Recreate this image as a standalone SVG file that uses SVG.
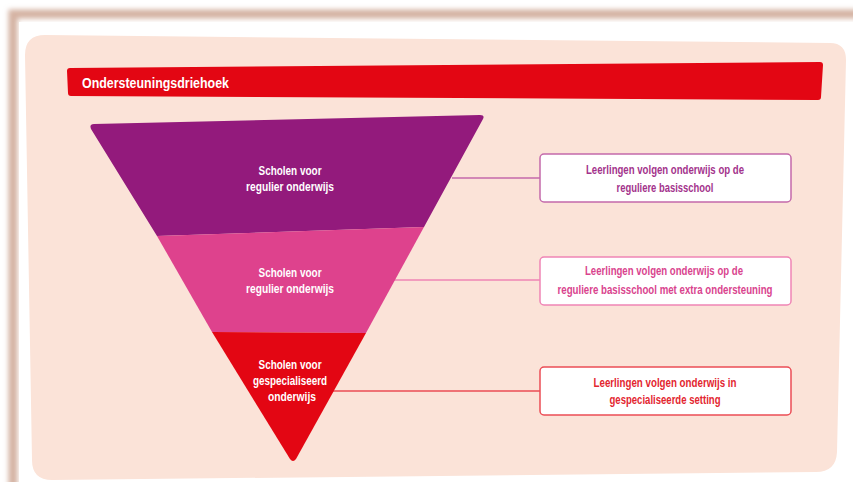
<svg xmlns="http://www.w3.org/2000/svg" width="853" height="482" viewBox="0 0 853 482">
<defs>
<filter id="blur" x="-5%" y="-5%" width="110%" height="110%"><feGaussianBlur stdDeviation="2.5"/></filter>
<style>
.t{font-family:"Liberation Sans",Arial,sans-serif;font-weight:bold;font-size:13.5px;text-anchor:middle}
.w{fill:#ffffff}
.b{font-size:13px}
.box{fill:#ffffff;stroke-width:1.5}
.ln{stroke-width:1.5;fill:none}
</style>
</defs>
<rect x="0" y="0" width="853" height="482" fill="#ffffff"/>
<rect x="13" y="14" width="860" height="480" fill="none" stroke="#d4b2a2" stroke-width="9" filter="url(#blur)"/>
<rect x="19" y="22" width="840" height="470" fill="#ffffff"/>
<path d="M 45 35 L 830 43 Q 846 43 846 60 L 837 452 Q 836 472 816 472 L 52 480 Q 32 480 32 460 L 25 55 Q 25 35 45 35 Z" fill="#fbe3d8"/>
<g id="title">
<path d="M 70 68 L 820 62 Q 823 62 823 65 L 821 97 Q 821 100 818 100 L 71 96 Q 68 96 68 93 L 67 71 Q 67 68 70 68 Z" fill="#e30613"/>
<text x="82" y="87.5" class="t w" style="text-anchor:start;font-size:14.5px" textLength="147" lengthAdjust="spacingAndGlyphs">Ondersteuningsdriehoek</text>
</g>
<g id="connectors">
<line x1="452" y1="178" x2="540" y2="178" class="ln" stroke="#c46aab"/>
<line x1="394" y1="280" x2="540" y2="280" class="ln" stroke="#ef85b5"/>
<line x1="333" y1="391" x2="540" y2="391" class="ln" stroke="#eb4d55"/>
</g>
<g id="tier1">
<path d="M 94 124 L 480 115 Q 485 115 483 119 L 424 227 L 157 236 L 91 129 Q 89 124 94 124 Z" fill="#931a7c"/>
<text x="290" y="175" class="t w" textLength="63" lengthAdjust="spacingAndGlyphs">Scholen voor</text>
<text x="290" y="191" class="t w" textLength="88" lengthAdjust="spacingAndGlyphs">regulier onderwijs</text>
</g>
<g id="tier2">
<path d="M 157 236 L 424 227 L 366 333 L 212 332 Z" fill="#de428d"/>
<text x="290" y="277" class="t w" textLength="63" lengthAdjust="spacingAndGlyphs">Scholen voor</text>
<text x="290" y="293" class="t w" textLength="88" lengthAdjust="spacingAndGlyphs">regulier onderwijs</text>
</g>
<g id="tier3">
<path d="M 212 332 L 366 333 L 296 459 Q 293 463 290 459 Z" fill="#e30613"/>
<text x="290" y="369" class="t w" textLength="63" lengthAdjust="spacingAndGlyphs">Scholen voor</text>
<text x="290" y="385" class="t w" textLength="74" lengthAdjust="spacingAndGlyphs">gespecialiseerd</text>
<text x="292" y="401" class="t w" textLength="48" lengthAdjust="spacingAndGlyphs">onderwijs</text>
</g>
<g id="box1">
<rect x="540" y="154" width="251" height="48" rx="4" class="box" stroke="#c46aab"/>
<text x="665" y="174" class="t b" fill="#a3338c" textLength="158" lengthAdjust="spacingAndGlyphs">Leerlingen volgen onderwijs op de</text>
<text x="665" y="192" class="t b" fill="#a3338c" textLength="97" lengthAdjust="spacingAndGlyphs">reguliere basisschool</text>
</g>
<g id="box2">
<rect x="540" y="257" width="251" height="48" rx="4" class="box" stroke="#ef85b5"/>
<text x="664" y="275" class="t b" fill="#d9448e" textLength="158" lengthAdjust="spacingAndGlyphs">Leerlingen volgen onderwijs op de</text>
<text x="665" y="294" class="t b" fill="#d9448e" textLength="215" lengthAdjust="spacingAndGlyphs">reguliere basisschool met extra ondersteuning</text>
</g>
<g id="box3">
<rect x="540" y="367" width="251" height="48" rx="4" class="box" stroke="#eb4d55"/>
<text x="665" y="387" class="t b" fill="#e3262f" textLength="143" lengthAdjust="spacingAndGlyphs">Leerlingen volgen onderwijs in</text>
<text x="665" y="404" class="t b" fill="#e3262f" textLength="111" lengthAdjust="spacingAndGlyphs">gespecialiseerde setting</text>
</g>
</svg>
